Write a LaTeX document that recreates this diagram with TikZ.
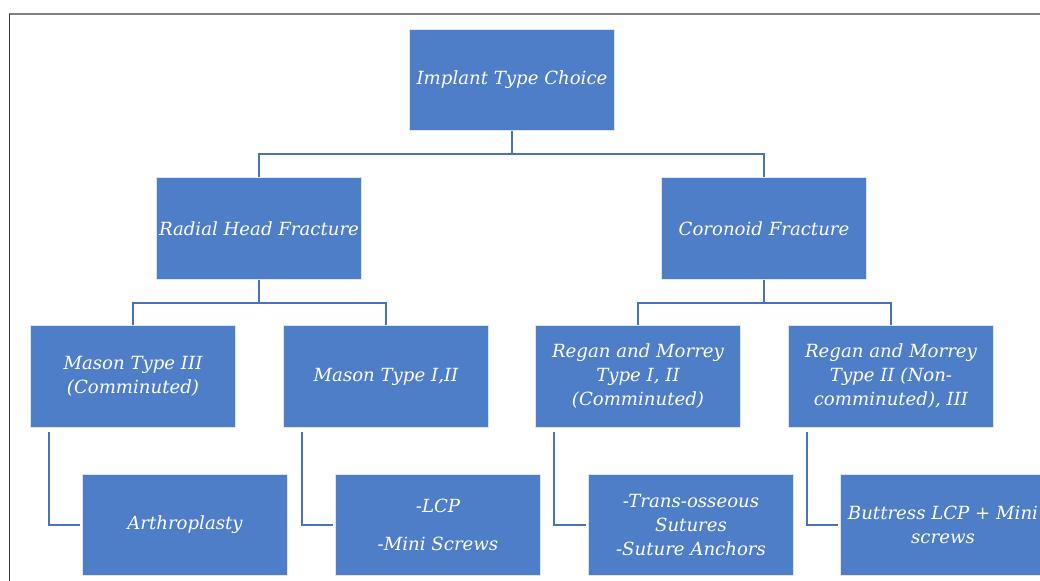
\documentclass[tikz,border=0pt]{standalone}
\usepackage{fontspec}
\setmainfont{DejaVu Serif}
\usetikzlibrary{positioning}

\definecolor{boxblue}{HTML}{4F7EC9}
\definecolor{linkblue}{HTML}{4A72B8}

\tikzset{
  chartbox/.style={draw=white!80!boxblue, line width=0.6pt, fill=boxblue,
    minimum width=154pt, minimum height=76pt, inner sep=1pt, align=center,
    text=white, font=\fontsize{13.6}{18}\selectfont\itshape},
  link/.style={draw=linkblue, line width=1.5pt},
}

\begin{document}
\begin{tikzpicture}[x=0.75pt, y=-0.75pt]
	\useasboundingbox (0,0) rectangle (1040,581);
	% frame of the page
	\draw[gray, line width=1.5pt] (9,14.5) -- (1040,14.5);
	\draw[black!80, line width=1.2pt] (9.5,14) -- (9.5,581);

	% boxes
	\node[chartbox] (choice) at (512,80) {Implant Type Choice};
	\node[chartbox] (radial) at (259,228.5) {Radial Head Fracture};
	\node[chartbox] (coronoid) at (764,228.5) {Coronoid Fracture};
	\node[chartbox] (mason3) at (133,376.5) {Mason Type III\\(Comminuted)};
	\node[chartbox] (mason12) at (386,376.5) {Mason Type I,II};
	\node[chartbox] (regan12) at (638,376.5) {Regan and Morrey\\Type I, II\\(Comminuted)};
	\node[chartbox] (regan23) at (891,376.5) {Regan and Morrey\\Type II (Non-\\comminuted), III};
	\node[chartbox] (arthro) at (185,525) {Arthroplasty};
	\node[chartbox] (lcp) at (438,525) {-LCP\\[10pt]-Mini Screws};
	\node[chartbox] (sutures) at (691,525) {-Trans-osseous\\Sutures\\-Suture Anchors};
	\node[chartbox] (buttress) at (943,525) {Buttress LCP + Mini\\screws};

	% tree links
	\draw[link] (choice.south) -- ++(0,23) -| (radial.north);
	\draw[link] (choice.south) ++(0,23) -| (coronoid.north);
	\draw[link] (radial.south) -- ++(0,23) -| (mason3.north);
	\draw[link] (radial.south) ++(0,23) -| (mason12.north);
	\draw[link] (coronoid.south) -- ++(0,23) -| (regan12.north);
	\draw[link] (coronoid.south) ++(0,23) -| (regan23.north);

	% side links
	\draw[link] ([xshift=14pt, yshift=-3pt]mason3.south west) |- ([xshift=-1.5pt]arthro.west);
	\draw[link] ([xshift=14pt, yshift=-3pt]mason12.south west) |- ([xshift=-1.5pt]lcp.west);
	\draw[link] ([xshift=14pt, yshift=-3pt]regan12.south west) |- ([xshift=-1.5pt]sutures.west);
	\draw[link] ([xshift=14pt, yshift=-3pt]regan23.south west) |- ([xshift=-1.5pt]buttress.west);
\end{tikzpicture}
\end{document}
